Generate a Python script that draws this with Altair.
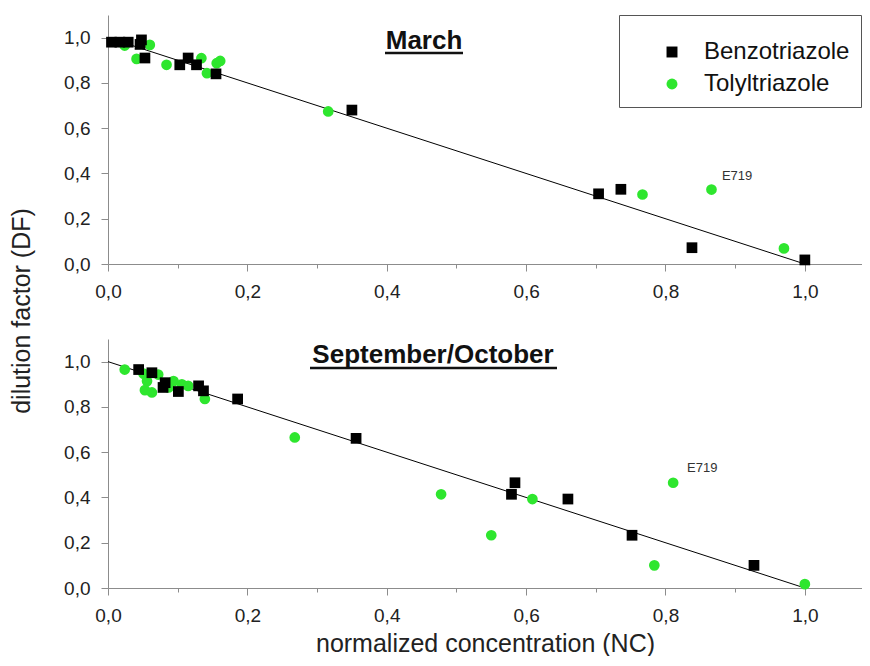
import altair as alt
import pandas as pd

FONT = "Liberation Sans"
GREEN = "#2ee62e"
AXIS_GRAY = "#8c8c8c"

compounds = ["Benzotriazole", "Tolyltriazole"]

# March
mar_btz_x = [0.005, 0.017, 0.029, 0.048, 0.046, 0.053, 0.103, 0.115, 0.127, 0.155, 0.350, 0.704, 0.736, 0.838, 1.000]
mar_btz_y = [0.98, 0.98, 0.98, 0.99, 0.97, 0.91, 0.88, 0.91, 0.88, 0.84, 0.68, 0.31, 0.33, 0.072, 0.018]
mar_tty_x = [0.024, 0.041, 0.060, 0.084, 0.134, 0.142, 0.156, 0.161, 0.316, 0.767, 0.866, 0.970]
mar_tty_y = [0.965, 0.906, 0.968, 0.880, 0.909, 0.843, 0.887, 0.897, 0.674, 0.307, 0.329, 0.069]

# September/October
sep_btz_x = [0.044, 0.063, 0.082, 0.079, 0.101, 0.130, 0.137, 0.186, 0.356, 0.584, 0.579, 0.660, 0.752, 0.927]
sep_btz_y = [0.965, 0.951, 0.907, 0.886, 0.868, 0.893, 0.871, 0.835, 0.661, 0.465, 0.414, 0.393, 0.233, 0.100]
sep_tty_x = [0.024, 0.051, 0.072, 0.056, 0.053, 0.063, 0.094, 0.087, 0.106, 0.115, 0.139, 0.268, 0.478, 0.550, 0.609, 0.784, 0.811, 1.000]
sep_tty_y = [0.965, 0.947, 0.943, 0.914, 0.874, 0.864, 0.914, 0.886, 0.900, 0.893, 0.835, 0.665, 0.414, 0.233, 0.393, 0.100, 0.465, 0.017]

# fitted line DF = 1 - NC
fit_x = [0.0, 1.0]
fit_y = [1.0, 0.0]

# annotations
mar_note = {"x": [0.881], "y": [0.389], "label": ["E719"]}
sep_note = {"x": [0.831], "y": [0.530], "label": ["E719"]}

tick_values = [0.0, 0.1, 0.2, 0.3, 0.4, 0.5, 0.6, 0.7, 0.8, 0.9, 1.0]


def points_df(bx, by, tx, ty):
    rows = [{"x": a, "y": b, "compound": "Tolyltriazole"} for a, b in zip(tx, ty)]
    rows += [{"x": a, "y": b, "compound": "Benzotriazole"} for a, b in zip(bx, by)]
    return pd.DataFrame(rows)


fit_df = pd.DataFrame({"x": fit_x, "y": fit_y})

label_expr = ("abs(round(datum.value*10)) % 2 == 0 ? "
              "replace(format(datum.value, '.1f'), '.', ',') : ''")
tick_size = {"condition": {"test": "abs(round(datum.value*10)) % 2 == 0", "value": 7}, "value": 4}

x_scale = alt.Scale(domain=[0, 1.082], nice=False, zero=False)
y_scale = alt.Scale(domain=[0, 1.1], nice=False, zero=False)

legend = alt.Legend(
    orient="none", legendX=511, legendY=0, title=" ", titleFontSize=10, titlePadding=4,
    labelFont=FONT, labelFontSize=24, labelColor="#111", labelOffset=20,
    symbolSize=120, symbolOffset=30, symbolStrokeWidth=0,
    rowPadding=8, padding=11, strokeColor="#555", fillColor="white",
)


def axis(title=None):
    kw = dict(values=tick_values, labelExpr=label_expr, tickSize=tick_size,
              grid=False, domainColor=AXIS_GRAY, tickColor=AXIS_GRAY,
              labelColor="#222", labelFont=FONT, labelFontSize=19, labelPadding=11,
              labelOverlap=False, labelFlush=False)
    if title:
        kw.update(title=title, titleFont=FONT, titleFontSize=25, titleFontWeight="normal",
                  titleColor="#222", titlePadding=6)
    else:
        kw["title"] = None
    return alt.Axis(**kw)


def panel(df, note, title, tx, ty, ul_x1, ul_x2, ul_y, xtitle=None, ytitle=False):
    x_enc = alt.X("x:Q", scale=x_scale, axis=axis(xtitle))
    y_enc = alt.Y("y:Q", scale=y_scale, axis=axis())
    line = alt.Chart(fit_df).mark_line(color="black", strokeWidth=1).encode(x=x_enc, y=y_enc)
    pts = alt.Chart(df).mark_point(filled=True, opacity=1, size=115, strokeWidth=0).encode(
        x="x:Q", y="y:Q",
        color=alt.Color("compound:N", scale=alt.Scale(domain=compounds, range=["black", GREEN]), legend=legend),
        shape=alt.Shape("compound:N", scale=alt.Scale(domain=compounds, range=["square", "circle"]), legend=legend),
    )
    ann = alt.Chart(pd.DataFrame(note)).mark_text(
        align="left", baseline="middle", font=FONT, fontSize=13, color="#333"
    ).encode(x="x:Q", y="y:Q", text="label:N")
    ttl = alt.Chart(pd.DataFrame({"t": [title]})).mark_text(
        align="center", baseline="alphabetic", font=FONT, fontSize=26, fontWeight="bold", color="#111"
    ).encode(x=alt.value(tx), y=alt.value(ty), text="t:N")
    ul = alt.Chart(pd.DataFrame({"t": [title]})).mark_rule(color="#111", strokeWidth=2.5).encode(
        x=alt.value(ul_x1), x2=alt.value(ul_x2), y=alt.value(ul_y)
    )
    layers = [line, pts, ann, ttl, ul]
    if ytitle:
        yt = alt.Chart(pd.DataFrame({"t": ["dilution factor (DF)"]})).mark_text(
            angle=270, align="center", baseline="middle", font=FONT, fontSize=25, color="#222"
        ).encode(x=alt.value(-86), y=alt.value(296), text="t:N")
        layers.append(yt)
    return alt.layer(*layers).properties(width=754, height=249)


top = panel(points_df(mar_btz_x, mar_btz_y, mar_tty_x, mar_tty_y), mar_note,
            "March", 316, 34, 277, 355, 38, ytitle=True)
bottom = panel(points_df(sep_btz_x, sep_btz_y, sep_tty_x, sep_tty_y), sep_note,
               "September/October", 325, 24, 202, 449, 29,
               xtitle="normalized concentration (NC)")

chart = alt.vconcat(top, bottom, spacing=75, bounds="flush").properties(
    padding={"left": 2, "top": 6, "right": 0, "bottom": 0}
).configure_view(stroke=None)

chart.save("out.html", embed_options={"renderer": "svg", "actions": False})
